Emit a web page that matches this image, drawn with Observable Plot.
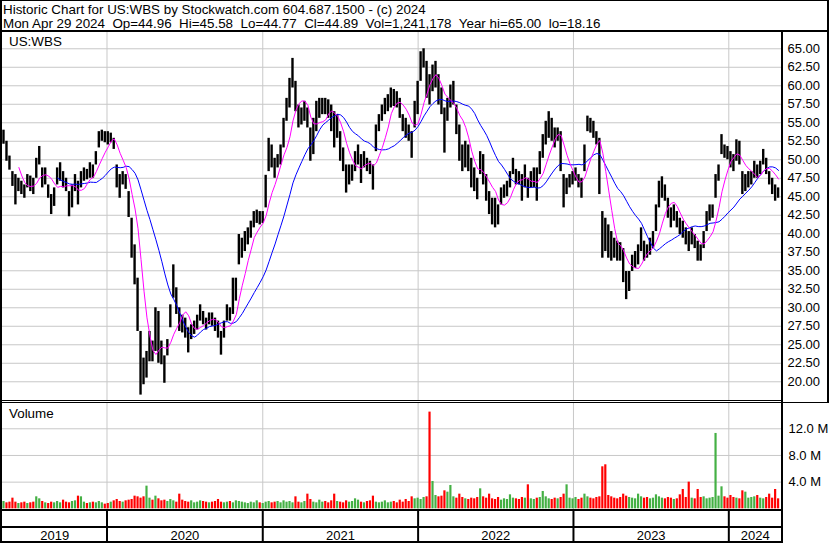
<!DOCTYPE html>
<html><head><meta charset="utf-8">
<script src="https://cdn.jsdelivr.net/npm/d3@7"></script>
<script src="https://cdn.jsdelivr.net/npm/@observablehq/plot@0.6"></script>
<style>
html,body{margin:0;padding:0;background:#fff;}
#root{position:relative;width:830px;height:543px;background:#fff;font-family:"Liberation Sans",Arial,sans-serif;color:#000;overflow:hidden;}
.txt{position:absolute;font-size:13.4px;line-height:14px;white-space:pre;}
.ln{position:absolute;background:#000;}
</style></head>
<body><div id="root"></div>
<script>
// ---- data (weekly) ----
const headerLine1 = "Historic Chart for US:WBS by Stockwatch.com 604.687.1500 - (c) 2024";
const headerLine2 = "Mon Apr 29 2024  Op=44.96  Hi=45.58  Lo=44.77  Cl=44.89  Vol=1,241,178  Year hi=65.00  lo=18.16";
const symbol = "US:WBS";
const years = [2019, 2020, 2021, 2022, 2023, 2024];
const priceTicks = [20,22.5,25,27.5,30,32.5,35,37.5,40,42.5,45,47.5,50,52.5,55,57.5,60,62.5,65];
const volTicks = [4, 8, 12]; // millions
const weekHigh = [
54.0,52.5,50.5,48.4,48.0,47.5,47.1,46.6,48.0,47.8,
47.5,50.2,51.8,48.9,48.9,46.6,45.3,46.2,48.9,49.6,
48.4,47.5,45.7,46.6,48.0,47.1,48.4,48.9,48.7,49.6,
49.3,51.1,53.8,54.0,53.8,53.8,53.6,52.9,49.3,48.0,
48.4,48.0,45.7,42.1,38.5,34.0,26.8,23.2,24.1,26.8,
25.5,30.0,29.5,25.5,23.5,25.7,30.4,35.8,32.7,30.0,
29.0,28.6,27.3,27.7,28.2,29.0,30.4,29.5,28.6,29.3,
29.3,28.6,28.2,26.8,28.2,30.4,30.0,34.0,34.0,39.9,
39.4,40.3,40.8,41.7,43.0,43.2,43.0,43.0,47.9,52.9,
52.0,50.2,50.7,52.0,55.6,58.3,61.0,63.7,60.6,57.4,
57.0,57.9,57.0,54.3,55.6,57.9,58.3,58.3,58.3,58.1,
57.4,56.5,56.1,53.8,51.6,49.3,49.3,49.3,51.1,52.0,
50.7,51.1,50.2,49.8,49.3,54.7,56.1,57.4,58.3,58.8,
59.7,59.5,59.2,58.3,56.1,55.6,54.7,53.8,57.9,60.6,
64.6,65.0,63.3,61.5,62.8,63.3,61.5,59.7,57.0,58.3,
60.1,60.6,57.4,54.7,52.0,52.5,52.0,50.2,48.9,47.5,
51.1,50.7,48.0,45.7,44.8,44.8,43.9,46.2,46.6,47.1,
48.4,50.2,48.7,48.4,48.0,49.3,47.5,48.4,48.9,48.9,
51.1,53.4,55.2,56.5,55.6,54.3,54.3,53.8,48.0,47.5,
48.0,48.4,48.9,48.0,47.5,52.0,55.9,55.6,55.2,53.8,
52.9,43.0,42.1,41.2,40.3,39.4,39.0,38.8,38.0,34.9,
34.9,37.1,37.6,38.5,40.8,39.0,38.5,39.4,40.3,43.9,
47.1,47.7,46.6,44.8,43.5,43.9,43.0,42.1,41.7,40.8,
40.3,40.8,39.9,39.0,38.5,40.3,43.0,43.9,43.9,48.0,
49.3,53.4,52.0,51.8,51.1,50.7,52.7,52.5,48.4,48.0,
48.4,48.4,49.8,49.3,49.8,51.4,50.2,48.4,47.5,46.6,
46.2];
const weekLow = [
52.1,49.8,48.6,46.4,43.9,45.7,45.3,44.8,46.2,45.7,
45.3,47.5,49.3,46.2,46.6,44.8,42.6,43.7,46.6,47.1,
46.2,45.7,42.3,43.5,45.7,43.9,46.2,47.1,47.3,47.5,
47.5,49.3,51.6,52.5,52.3,52.0,52.3,51.4,46.2,44.8,
46.6,46.0,42.2,36.7,33.1,26.8,18.2,19.6,20.5,22.7,
22.7,24.1,22.5,22.3,19.8,23.5,27.3,31.3,29.1,26.8,
26.6,25.9,23.9,25.7,26.4,27.0,28.2,27.7,27.0,27.7,
27.5,26.8,25.9,23.6,25.9,28.2,28.2,29.1,30.9,35.8,
36.7,37.6,38.5,39.4,40.8,41.4,41.2,41.4,43.5,48.4,
48.9,47.5,48.9,49.3,51.6,55.2,57.0,59.7,56.5,54.3,
54.7,55.2,54.3,49.8,50.7,53.8,55.6,56.1,56.1,55.6,
53.8,51.6,52.9,49.8,48.4,45.5,46.6,47.1,48.4,49.3,
46.8,48.9,48.4,48.0,45.9,51.1,53.8,55.2,56.1,56.5,
57.0,57.2,57.0,55.6,53.8,52.9,52.5,50.2,54.3,56.1,
60.6,62.4,58.3,57.4,59.2,59.7,57.4,56.1,50.9,55.2,
57.0,57.4,53.4,49.8,48.4,48.9,48.4,46.2,45.7,44.6,
48.0,46.6,44.4,42.6,41.2,40.8,41.2,43.9,44.8,45.0,
46.2,48.0,46.6,46.6,44.4,46.2,44.8,46.2,46.2,44.4,
48.0,50.2,52.0,52.9,52.5,51.6,52.5,48.4,43.5,45.3,
46.2,46.6,47.1,46.2,44.8,48.4,53.8,53.6,52.9,52.0,
45.3,36.7,37.6,36.7,36.3,36.7,36.3,36.3,33.4,31.1,
32.2,34.9,35.3,35.8,37.6,36.3,36.7,37.1,38.0,40.3,
43.5,44.8,44.4,42.1,40.8,41.7,40.8,39.9,39.4,38.5,
37.6,38.5,38.0,36.3,36.3,38.0,40.3,41.7,42.1,44.8,
47.1,50.7,50.2,50.0,48.9,48.4,49.8,49.3,45.3,45.7,
46.2,46.6,47.5,47.5,48.0,49.3,48.0,46.6,45.3,44.4,
44.8];
const weekVolume = [ // millions, peak daily volume in the week
1.1,0.9,1.0,1.6,1.0,0.8,0.9,1.0,0.8,0.9,
1.0,1.8,1.5,1.1,0.9,0.8,1.0,0.9,1.1,0.9,
1.3,1.0,0.9,1.1,1.2,1.9,1.8,1.0,0.8,0.9,
1.0,0.9,1.1,0.9,0.7,0.8,1.0,1.2,1.4,1.1,
1.0,1.2,1.3,1.4,1.9,1.8,1.6,1.8,3.4,1.6,
1.3,1.9,1.5,1.2,1.3,1.1,1.4,1.2,1.0,2.2,
1.3,1.1,1.0,1.2,0.9,1.0,1.2,1.1,1.0,0.9,
1.0,1.1,1.4,1.0,0.9,1.0,1.1,0.9,1.2,1.1,
1.0,0.9,0.8,1.0,0.9,1.2,0.9,0.8,1.0,1.1,
0.9,1.0,1.1,0.9,1.2,1.0,1.1,0.9,1.8,1.0,
0.9,1.1,2.2,1.4,1.0,0.9,1.3,1.0,1.1,0.9,
1.2,2.2,1.1,1.0,0.9,1.2,1.0,1.1,1.5,1.3,
1.0,0.9,1.1,1.2,1.9,1.0,0.9,1.0,1.2,0.9,
1.0,1.1,0.9,1.3,1.0,1.4,1.1,1.8,1.5,1.6,
1.4,1.7,1.8,14.5,4.1,2.0,1.8,1.9,2.7,2.5,
3.5,1.8,1.6,2.2,1.7,1.5,1.4,1.6,1.5,1.7,
3.0,1.8,1.6,2.2,1.5,1.4,1.7,1.3,1.5,1.4,
2.1,1.6,1.5,1.4,1.7,1.6,3.6,1.5,1.4,1.6,
1.7,2.6,1.8,1.5,1.4,1.6,1.5,1.7,2.2,3.6,
1.6,1.5,1.7,1.4,1.6,2.2,1.8,1.6,1.5,1.7,
1.8,6.3,6.6,2.0,1.8,1.6,1.5,1.7,2.2,1.9,
1.7,1.6,1.5,2.2,1.8,1.6,1.7,1.5,1.6,2.1,
1.8,1.6,1.5,1.7,1.6,1.4,1.5,2.1,2.9,1.7,
4.0,1.6,1.5,2.9,1.7,1.8,1.5,1.6,1.7,11.3,
1.9,3.3,1.8,1.6,2.0,1.7,1.6,1.5,2.7,2.5,
1.6,1.7,1.8,2.0,1.6,1.5,1.7,2.2,1.6,2.9,
1.5];

// ---- build ----
const DAY = 864e5, WEEK = 7 * DAY;
const t0 = Date.UTC(2019, 3, 30, 12);
const xDomain = [new Date(t0), new Date(Date.UTC(2024, 4, 3, 19))];
const weeks = weekHigh.map((h, i) => ({
  x1: new Date(t0 + i * WEEK), x2: new Date(t0 + (i + 1) * WEEK),
  xc: new Date(t0 + (i + 0.5) * WEEK), hi: h, lo: weekLow[i], vol: weekVolume[i]
}));
weeks.forEach(d => { d.mid = (d.hi + d.lo) / 2; });
weeks.forEach((d, i) => { d.up = i === 0 ? true : d.mid > weeks[i - 1].mid; });
const yearStarts = years.slice(1).map(y => new Date(Date.UTC(y, 0, 1)));
const yearMids = years.map(y => {
  const a = Math.max(+xDomain[0], Date.UTC(y, 0, 1));
  const b = Math.min(+xDomain[1], Date.UTC(y + 1, 0, 1));
  return {year: y, x: new Date((a + b) / 2)};
});

const FONT = '"Liberation Sans", Arial, sans-serif';
const GRID = "#c8c8c8";
const baseStyle = {fontFamily: FONT, fontSize: "13px", color: "#000", background: "transparent", overflow: "visible"};
const root = document.getElementById("root");
function place(el, left, top) { el.style.position = "absolute"; el.style.left = left + "px"; el.style.top = top + "px"; root.appendChild(el); return el; }

// price panel
const pricePlot = Plot.plot({
  width: 830, height: 368, marginLeft: 2, marginRight: 49, marginTop: 0, marginBottom: 0,
  style: baseStyle,
  x: {type: "utc", domain: xDomain, axis: null},
  y: {domain: [17.47, 67.2], axis: null},
  marks: [
    Plot.ruleY(priceTicks, {stroke: GRID, strokeWidth: 1}),
    Plot.ruleX(yearStarts, {stroke: GRID, strokeWidth: 1}),
    Plot.rect(weeks, {x1: "x1", x2: "x2", y1: "lo", y2: "hi", fill: "#000", insetLeft: 0.3, insetRight: 0.3}),
    Plot.lineY(weeks, Plot.windowY({k: 19, anchor: "end", strict: true, reduce: "mean"}, {x: "xc", y: "mid", stroke: "#0000ff", strokeWidth: 1})),
    Plot.lineY(weeks, Plot.windowY({k: 6, anchor: "end", strict: true, reduce: "mean"}, {x: "xc", y: "mid", stroke: "#ff00ff", strokeWidth: 1})),
    Plot.axisY({ticks: priceTicks, anchor: "right", tickSize: 0, tickPadding: 6, tickFormat: d => d.toFixed(2), label: null, fontSize: 13, fill: "#000"})
  ]
});
place(pricePlot, 0, 32);

// volume panel
const volPlot = Plot.plot({
  width: 830, height: 107, marginLeft: 2, marginRight: 49, marginTop: 0, marginBottom: 0,
  style: baseStyle,
  x: {type: "utc", domain: xDomain, axis: null},
  y: {domain: [-0.1, 15.94], axis: null},
  marks: [
    Plot.ruleY(volTicks, {stroke: GRID, strokeWidth: 1}),
    Plot.ruleX(yearStarts, {stroke: GRID, strokeWidth: 1}),
    Plot.rect(weeks, {x1: "x1", x2: "x2", y1: 0, y2: "vol", fill: d => d.up ? "#44b044" : "#ff0000", insetLeft: 0.4, insetRight: 0.4}),
    Plot.axisY({ticks: volTicks, anchor: "right", tickSize: 0, tickPadding: 7, tickFormat: d => d.toFixed(1) + " M", label: null, fontSize: 13, fill: "#000"})
  ]
});
place(volPlot, 0, 402);

// bottom year band
const yearPlot = Plot.plot({
  width: 830, height: 34, marginLeft: 2, marginRight: 49, marginTop: 0, marginBottom: 0,
  style: baseStyle,
  x: {type: "utc", domain: xDomain, axis: null},
  marks: [
    Plot.ruleX(yearStarts, {stroke: "#000", strokeWidth: 2}),
    Plot.text(yearMids, {x: "x", text: d => String(d.year), frameAnchor: "bottom", lineAnchor: "bottom", dy: -3.5, fontSize: 13, fill: "#000"})
  ]
});
place(yearPlot, 0, 509);

// texts
function txt(s, left, top) { const d = document.createElement("div"); d.className = "txt"; d.textContent = s; place(d, left, top); return d; }
txt(headerLine1, 3, 2.5);
txt(headerLine2, 3, 16.5);
txt(symbol, 9, 34.5);
txt("Volume", 9, 406.8);

// frame lines
function ln(l, t, w, h) { const d = document.createElement("div"); d.className = "ln"; d.style.width = w + "px"; d.style.height = h + "px"; place(d, l, t); }
ln(0, 0, 828, 1);        // top
ln(0, 30, 829, 2);       // header bottom
ln(0, 0, 2, 543);        // left
ln(827, 0, 1.5, 402);    // right outer
ln(781, 31, 2, 512);     // plot right
ln(0, 399.5, 783, 1);    // separator
ln(0, 401.5, 829, 1);
ln(0, 509, 783, 2);      // volume bottom
ln(0, 526, 783, 2);
ln(0, 541, 783, 2);
</script></body></html>
